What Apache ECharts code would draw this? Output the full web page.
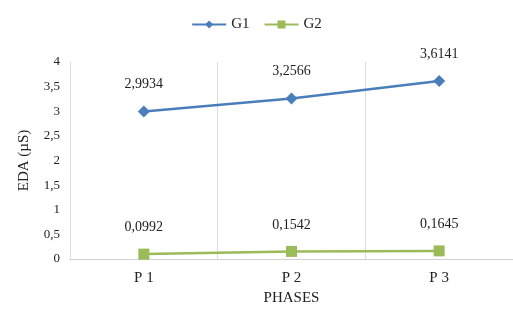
<!DOCTYPE html>
<html>
<head>
<meta charset="utf-8">
<script src="https://cdn.jsdelivr.net/npm/echarts@6/dist/echarts.min.js"></script>
<style>
  html, body { margin: 0; padding: 0; background: #fff; }
  #chart { width: 513px; height: 317px; }
</style>
</head>
<body>
<div id="chart"></div>
<script>
// data
const phases = ['P 1', 'P 2', 'P 3']
const g1 = [2.9934, 3.2566, 3.6141]
const g2 = [0.0992, 0.1542, 0.1645]

const serif = 'Liberation Serif'
const comma = v => String(v).replace('.', ',')

const chart = echarts.init(document.getElementById('chart'))
const option = {
  animation: false,
  textStyle: { fontFamily: serif },
  legend: {
    top: 12,
    left: 'center',
    itemWidth: 34,
    itemHeight: 10,
    itemGap: 14,
    textStyle: { fontFamily: serif, fontSize: 15, color: '#222' },
    data: ['G1', 'G2']
  },
  grid: { left: 70, right: -4, top: 62, bottom: 58 },
  xAxis: {
    type: 'category',
    data: phases,
    name: 'PHASES',
    nameLocation: 'middle',
    nameGap: 32,
    nameTextStyle: { fontFamily: serif, fontSize: 15, color: '#222' },
    axisLine: { lineStyle: { color: '#d0d0d0' } },
    axisTick: { show: false },
    splitLine: { show: true, lineStyle: { color: '#dcdcdc' } },
    axisLabel: { fontFamily: serif, fontSize: 15, color: '#222', margin: 12 }
  },
  yAxis: {
    type: 'value',
    min: 0,
    max: 4,
    interval: 0.5,
    name: 'EDA (µS)',
    nameLocation: 'middle',
    nameGap: 38,
    nameTextStyle: { fontFamily: serif, fontSize: 15, color: '#222' },
    axisLine: { show: true, lineStyle: { color: '#dcdcdc' } },
    axisTick: { show: false },
    splitLine: { show: false },
    axisLabel: { fontFamily: serif, fontSize: 13, color: '#222', margin: 10, formatter: comma }
  },
  series: [
    {
      name: 'G1',
      type: 'line',
      data: g1,
      symbol: 'diamond',
      symbolSize: 12,
      itemStyle: { color: '#4a7ebb' },
      lineStyle: { color: '#4a7ebb', width: 2.5 },
      label: {
        show: true,
        position: 'top',
        distance: 14,
        fontFamily: serif,
        fontSize: 14,
        color: '#222',
        formatter: p => comma(p.value)
      }
    },
    {
      name: 'G2',
      type: 'line',
      data: g2,
      symbol: 'rect',
      symbolSize: 11,
      itemStyle: { color: '#9bbb59' },
      lineStyle: { color: '#9bbb59', width: 2.5 },
      label: {
        show: true,
        position: 'top',
        distance: 14,
        fontFamily: serif,
        fontSize: 14,
        color: '#222',
        formatter: p => comma(p.value)
      }
    }
  ]
}
chart.setOption(option)
</script>
</body>
</html>
